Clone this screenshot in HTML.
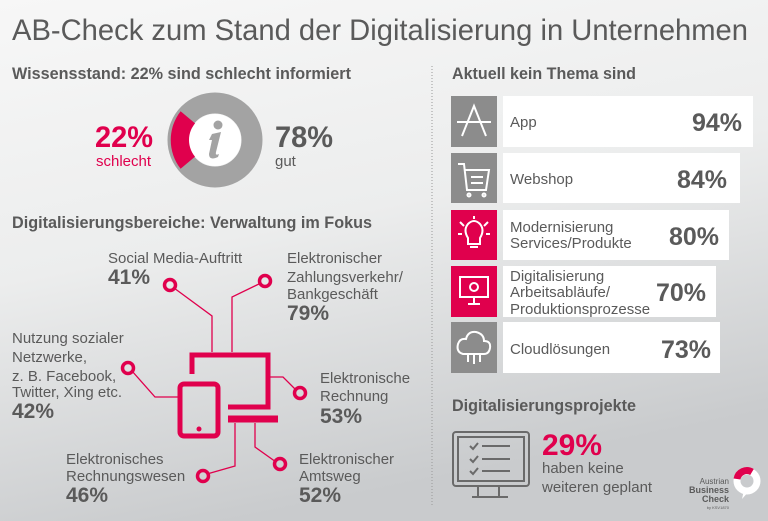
<!DOCTYPE html>
<html><head><meta charset="utf-8"><style>
html,body{margin:0;padding:0;width:768px;height:521px;overflow:hidden}
svg{display:block}
text{font-family:"Liberation Sans",sans-serif;fill:#5a5a5a}
.b{font-weight:bold}
.p{fill:#e0004d}
</style></head><body>
<svg width="768" height="521" viewBox="0 0 768 521">
<defs>
<linearGradient id="bg" x1="0" y1="0" x2="0.3" y2="1">
<stop offset="0" stop-color="#f7f7f7"/><stop offset="0.5" stop-color="#eceded"/><stop offset="1" stop-color="#c9cbcd"/>
</linearGradient>
</defs>
<rect width="768" height="521" fill="url(#bg)"/>
<text x="12" y="40" font-size="30" textLength="736" lengthAdjust="spacingAndGlyphs" fill="#5f5f5f">AB-Check zum Stand der Digitalisierung in Unternehmen</text>
<text x="12" y="79" font-size="17" class="b" textLength="339" lengthAdjust="spacingAndGlyphs">Wissensstand: 22% sind schlecht informiert</text>
<line x1="432" y1="66" x2="432" y2="505" stroke="#999" stroke-width="1" stroke-dasharray="1,2"/>

<!-- donut -->
<circle cx="215" cy="140" r="37" fill="none" stroke="#a3a3a3" stroke-width="21"/>
<path d="M180.6 111.2 A47 47 0 0 0 180.6 168.8 L196.1 155.8 A26 26 0 0 1 196.1 124.2 Z" fill="#e0004d"/>
<circle cx="215" cy="140" r="26" fill="#fff"/>
<circle cx="218" cy="125" r="4.5" fill="#a3a3a3"/>
<path d="M212 134 L221 132 L216 152 Q215 156 219 154 L218 157 Q209 161 209 154 L212 140 L209 140 Z" fill="#a3a3a3"/>
<text x="95" y="147" font-size="30" class="b p" textLength="58" lengthAdjust="spacingAndGlyphs">22%</text>
<text x="96" y="166" font-size="15" class="p">schlecht</text>
<text x="275" y="147" font-size="30" class="b" textLength="58" lengthAdjust="spacingAndGlyphs">78%</text>
<text x="275" y="166" font-size="15">gut</text>

<text x="12" y="228" font-size="17" class="b" textLength="360" lengthAdjust="spacingAndGlyphs">Digitalisierungsbereiche: Verwaltung im Fokus</text>

<!-- devices -->
<g fill="none" stroke="#e0004d">
<path d="M192 374 V355 H268 V407 H228" stroke-width="5"/>
<rect x="180" y="384" width="38" height="52" rx="4" stroke-width="5"/>
<path d="M228 419 H278" stroke-width="7"/>
<g stroke-width="1.3">
<path d="M174 288 L212 316 V352"/>
<path d="M261 283 L232 297 V352"/>
<path d="M132 371 L155 397 H178"/>
<path d="M270 377 H283 L296 390"/>
<path d="M207 474 L235 466 V423"/>
<path d="M276 462 L255 447 V423"/>
</g>
<g stroke-width="3.5">
<circle cx="170" cy="285" r="5.5"/><circle cx="265" cy="281" r="5.5"/>
<circle cx="128" cy="368" r="5.5"/><circle cx="300" cy="393" r="5.5"/>
<circle cx="203" cy="476" r="5.5"/><circle cx="280" cy="464" r="5.5"/>
</g>
</g>
<circle cx="199" cy="429" r="2.5" fill="#e0004d"/>

<g font-size="15">
<text x="108" y="263">Social Media-Auftritt</text>
<text x="108" y="284" font-size="21" class="b">41%</text>
<text x="287" y="263">Elektronischer</text>
<text x="287" y="282">Zahlungsverkehr/</text>
<text x="287" y="299">Bankgeschäft</text>
<text x="287" y="320" font-size="21" class="b">79%</text>
<text x="12" y="343">Nutzung sozialer</text>
<text x="12" y="362">Netzwerke,</text>
<text x="12" y="381">z. B. Facebook,</text>
<text x="12" y="397">Twitter, Xing etc.</text>
<text x="12" y="418" font-size="21" class="b">42%</text>
<text x="320" y="383">Elektronische</text>
<text x="320" y="401">Rechnung</text>
<text x="320" y="423" font-size="21" class="b">53%</text>
<text x="66" y="464">Elektronisches</text>
<text x="66" y="481">Rechnungswesen</text>
<text x="66" y="502" font-size="21" class="b">46%</text>
<text x="299" y="464">Elektronischer</text>
<text x="299" y="481">Amtsweg</text>
<text x="299" y="502" font-size="21" class="b">52%</text>
</g>

<!-- right -->
<text x="452" y="79" font-size="17" class="b" textLength="184" lengthAdjust="spacingAndGlyphs">Aktuell kein Thema sind</text>
<g>
<rect x="451" y="96" width="46" height="51" fill="#8c8c8c"/><rect x="503" y="96" width="250" height="51" fill="#fff"/>
<rect x="451" y="153" width="46" height="50" fill="#8c8c8c"/><rect x="503" y="153" width="237" height="50" fill="#fff"/>
<rect x="451" y="210" width="46" height="50" fill="#e0004d"/><rect x="503" y="210" width="226" height="50" fill="#fff"/>
<rect x="451" y="266" width="46" height="51" fill="#e0004d"/><rect x="503" y="266" width="213" height="51" fill="#fff"/>
<rect x="451" y="322" width="46" height="51" fill="#8c8c8c"/><rect x="503" y="322" width="217" height="51" fill="#fff"/>
</g>
<g fill="none" stroke="#fff" stroke-width="2">
<path d="M462 136 L474 106 L486 136 M457 122 H491"/>
<path d="M458 164 H464 L467 190 H486 L489 170 H465 M471 177 H483 M471 183 H483"/><circle cx="469" cy="195" r="1.5"/><circle cx="484" cy="195" r="1.5"/>
<path d="M468 238 Q463 230 468 224 Q474 218 480 224 Q485 230 480 238 V244 H468 Z M470 247 H478"/>
<path d="M460 222 L464 226 M488 222 L484 226 M474 216 V219 M458 234 H462 M486 234 H490"/>
<rect x="460" y="277" width="28" height="20"/><path d="M474 297 V303 M468 304 H480"/><circle cx="474" cy="287" r="4"/>
<path d="M463 354 Q456 352 458 344 Q460 338 466 339 Q468 331 476 332 Q484 334 484 341 Q491 341 490 348 Q489 354 484 354 Z M468 354 V362 M474 354 V364 M480 354 V362"/>
</g>
<g font-size="15">
<text x="510" y="127">App</text>
<text x="510" y="184">Webshop</text>
<text x="510" y="232">Modernisierung</text><text x="510" y="248">Services/Produkte</text>
<text x="510" y="281">Digitalisierung</text><text x="510" y="297">Arbeitsabläufe/</text><text x="510" y="314">Produktionsprozesse</text>
<text x="510" y="354">Cloudlösungen</text>
</g>
<g font-size="25" class="b" text-anchor="end">
<text x="742" y="131">94%</text>
<text x="727" y="188">84%</text>
<text x="719" y="245">80%</text>
<text x="706" y="301">70%</text>
<text x="711" y="358">73%</text>
</g>

<text x="452" y="411" font-size="17" class="b" textLength="184" lengthAdjust="spacingAndGlyphs">Digitalisierungsprojekte</text>
<g fill="none" stroke="#6a6a6a" stroke-width="2">
<rect x="453" y="432" width="76" height="54" rx="3"/><rect x="458" y="437" width="66" height="44"/>
<path d="M478 487 V497 M499 487 V497 M472 497 H508"/>
<path d="M470 446 L473 449 L478 443 M482 446 H510 M470 459 L473 462 L478 456 M482 459 H510 M470 471 L473 474 L478 468 M482 471 H510"/>
</g>
<text x="542" y="455" font-size="30" class="b p" textLength="60" lengthAdjust="spacingAndGlyphs">29%</text>
<text x="542" y="473" font-size="15">haben keine</text>
<text x="542" y="492" font-size="15">weiteren geplant</text>

<g text-anchor="end">
<text x="729" y="484" font-size="8">Austrian</text>
<text x="729" y="493" font-size="9" class="b" fill="#333">Business</text>
<text x="729" y="502" font-size="9" class="b" fill="#333">Check</text>
<text x="729" y="509" font-size="4">by KSV1870</text>
</g>
<circle cx="747" cy="481" r="10" fill="none" stroke="#fff" stroke-width="7"/>
<path d="M737 479 A10 10 0 0 1 752 472" fill="none" stroke="#e0004d" stroke-width="7"/>
<path d="M744 490 L742 499 L750 490 Z" fill="#fff"/>
</svg>
</body></html>
